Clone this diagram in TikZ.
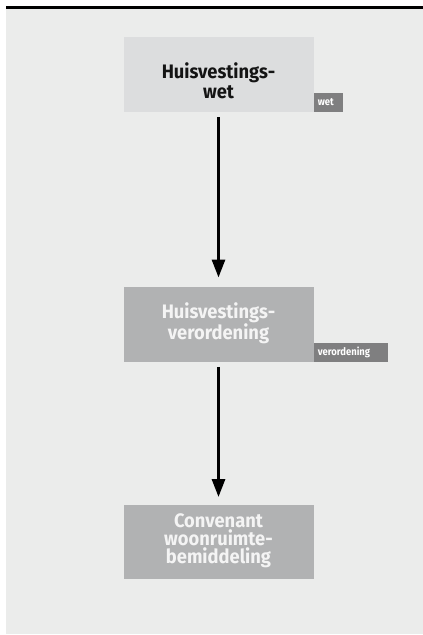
\documentclass[tikz,border=0pt]{standalone}
\usepackage{fontspec}
\setmainfont{Fira Sans}
\newfontfamily\diagfont[FakeStretch=0.94]{Fira Sans}
\newfontfamily\tagfont[FakeStretch=0.9]{Fira Sans}
\usetikzlibrary{arrows.meta}
\definecolor{panel}{HTML}{EBECEB}
\definecolor{lawbox}{HTML}{DCDDDE}
\definecolor{rulebox}{HTML}{B1B2B3}
\definecolor{tagbox}{HTML}{7F7F80}
\definecolor{paletext}{HTML}{F4F4F4}
\definecolor{inktext}{HTML}{141414}

\begin{document}
\begin{tikzpicture}[x=1pt,y=-1pt,
  box/.style={rectangle, minimum width=190pt, minimum height=75pt, inner sep=0pt},
  boxtext/.style={font=\diagfont\bfseries\fontsize{19.5}{20}\selectfont, align=center, inner sep=0pt},
  tag/.style={rectangle, fill=tagbox, text=white, anchor=south west,
    font=\tagfont\bfseries\fontsize{10.5}{11}\selectfont,
    minimum height=19pt, inner sep=0pt, inner xsep=4pt, align=left},
  flow/.style={line width=3pt, -{Triangle[width=13pt,length=18pt]}}]

  \useasboundingbox (0,0) rectangle (423,635);

  % panel and top rule
  \fill[panel] (6,9) rectangle (423,634);
  \fill[black] (6,6) rectangle (423,9);

  % boxes
  \node[box, fill=lawbox]  (b1) at (218.5,74.5) {};
  \node[box, fill=rulebox] (b2) at (218.5,324.2) {};
  \node[box, fill=rulebox, minimum height=74pt] (b3) at (218.5,542.2) {};

  % box texts
  \node[boxtext, text=inktext] (t1) at ([yshift=-6pt]b1.center) {Huisvestings-\\wet};
  \node[boxtext, text=paletext] (t2) at ([yshift=1pt]b2.center) {Huisvestings-\\verordening};
  \node[boxtext, text=paletext, font=\diagfont\bfseries\fontsize{19.5}{18}\selectfont] (t3) at ([yshift=1pt]b3.center) {Convenant\\woonruimte-\\bemiddeling};

  % tags
  \node[tag, text width=21pt] (g1) at (b1.south east) {wet};
  \node[tag, text width=66pt] (g2) at (b2.south east) {verordening};

  % connectors
  \draw[flow, shorten <=5pt, shorten >=9pt] (b1.south) -- (b2.north);
  \draw[flow, shorten <=5pt, shorten >=8pt] (b2.south) -- (b3.north);
\end{tikzpicture}
\end{document}
